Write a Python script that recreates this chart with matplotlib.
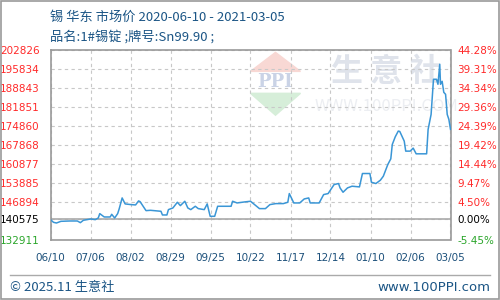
import numpy as np
import matplotlib.pyplot as plt
from matplotlib.patches import Polygon, Rectangle
from matplotlib.lines import Line2D

plt.rcParams['font.family'] = ['Noto Sans CJK SC', 'DejaVu Sans']

# day offsets from 2020-06-10 and price (yuan/ton)
days = [0, 2, 4, 7, 13, 18, 20, 22, 27, 30, 32, 33, 36, 40, 41, 43, 45, 46, 48, 50,
        54, 57, 59, 60, 64, 67, 74, 75, 78, 79, 82, 85, 87, 90, 92, 94, 97, 99, 103,
        105, 106, 107, 110, 112, 121, 122, 125, 130, 134, 137, 140, 144, 147, 151,
        156, 159, 160, 163, 167, 170, 173, 174, 180, 183, 186, 190, 193, 194, 196,
        199, 202, 207, 209, 214, 215, 218, 221, 223, 226, 228, 229, 231, 233, 234,
        237, 238, 241, 243, 245, 252, 253, 255, 256.6, 258.6, 259.6, 260.8, 261.3,
        262.4, 263.5, 264.7, 265.8, 266.9, 268]
prices = [140380, 139400, 139150, 139770, 139890, 139890, 139280, 140140, 140630,
          140380, 140990, 142590, 141360, 141360, 142340, 140990, 142590, 144300,
          148350, 146150, 145900, 145780, 147250, 147000, 143690, 143810, 143450,
          142100, 142100, 144060, 144670, 146760, 145530, 147130, 144670, 144060,
          145290, 144430, 144060, 146150, 143810, 141610, 141610, 145290, 145290,
          147130, 146510, 146880, 147130, 145780, 144430, 144430, 145900, 146270,
          146270, 146760, 149950, 146510, 146510, 147980, 148350, 146510, 146510,
          149580, 149950, 153260, 153630, 152030, 150440, 152030, 152650, 152400,
          157310, 157310, 154120, 153630, 154850, 156330, 160620, 162700, 167980,
          170800, 172880, 172760, 169200, 165530, 165530, 166630, 164540, 164540,
          173500, 179000, 191900, 191900, 190060, 197420, 190060, 191160, 187110,
          186380, 179000, 177180, 173500]

base = 140575
yticks = [132911, 140575, 146894, 153885, 160877, 167868, 174860, 181851,
          188843, 195834, 202826]
pct_labels = ['-5.45%', '0.00%', '4.50%', '9.47%', '14.44%', '19.42%', '24.39%',
              '29.36%', '34.34%', '39.31%', '44.28%']
xtick_labels = ['06/10', '07/06', '08/02', '08/29', '09/25', '10/22', '11/17',
                '12/14', '01/10', '02/06', '03/05']

fig = plt.figure(figsize=(5, 3), dpi=100)
fig.patch.set_facecolor('white')

ax = fig.add_axes([0.101, 0.2, 0.8, 0.635])
ax.set_xlim(0, 268)
ax.set_ylim(132911, 202826)

# watermark
wm = dict(transform=ax.transAxes, zorder=0)
ax.add_patch(Polygon([[0.50, 0.885], [0.625, 0.885], [0.5625, 0.985]], closed=True,
                     color='#f8d8d4', **wm))
ax.add_patch(Polygon([[0.50, 0.77], [0.625, 0.77], [0.5625, 0.655]], closed=True,
                     color='#d6eed9', **wm))
ax.text(0.5625, 0.828, 'PPI', ha='center', va='center', fontsize=13,
        color='#cad3e6', family='DejaVu Serif', fontweight='bold', **wm)
ax.text(0.84, 0.88, '生 意 社', ha='center', va='center', fontsize=23,
        color='#dfe3eb', fontweight='bold', **wm)
ax.text(0.84, 0.70, 'WWW.100PPI.COM', ha='center', va='center', fontsize=12,
        color='#eceef2', **wm)

ax.plot(days, prices, color='#3a96d6', lw=1.1, zorder=3)

ax.set_yticks(yticks)
ax.set_xticks(np.linspace(0, 268, 11))
ax.set_xticklabels(xtick_labels, color='#1b4f7a', fontsize=7.5, family='DejaVu Sans')
ax.tick_params(axis='both', length=0)
ax.tick_params(axis='x', pad=9)
ax.tick_params(axis='y', pad=8)
ax.set_yticklabels([str(v) for v in yticks], fontsize=7.5, family='DejaVu Sans')
for lab, v in zip(ax.get_yticklabels(), yticks):
    lab.set_color('#000000' if v == base else ('#2aa52a' if v < base else '#ff2a2a'))

ax.grid(True, ls=(0, (3, 3)), color='#c8c8c8', lw=0.8)
ax.axhline(base, color='#aaaaaa', lw=1.2, zorder=2)
for s in ax.spines.values():
    s.set_color('#999999')
    s.set_linewidth(1.2)

ax2 = ax.twinx()
ax2.set_ylim(ax.get_ylim())
ax2.set_yticks(yticks)
ax2.set_yticklabels(pct_labels, fontsize=7.5, family='DejaVu Sans')
ax2.tick_params(axis='y', length=0, pad=5)
for lab, v in zip(ax2.get_yticklabels(), yticks):
    lab.set_color('#000000' if v == base else ('#2aa52a' if v < base else '#ff2a2a'))
for s in ax2.spines.values():
    s.set_visible(False)

# header
fig.text(0.1, 0.943, '锡 华东 市场价 2020-06-10 - 2021-03-05', fontsize=9.5,
         color='#1b5585', va='center')
fig.text(0.1, 0.877, '品名:1#锡锭 ;牌号:Sn99.90 ;', fontsize=9.5,
         color='#1b5585', va='center')

# footer
fig.add_artist(Line2D([0.02, 0.98], [0.083, 0.083], color='#aaaaaa', lw=1))
fig.text(0.02, 0.043, '© 2025.11 生意社', fontsize=9.5, color='#1b5585', va='center')
fig.text(0.98, 0.043, 'www.100PPI.com', fontsize=9.5, color='#1b5585', va='center',
         ha='right', family='DejaVu Sans')
fig.add_artist(Rectangle((0.001, 0.002), 0.997, 0.995, fill=False, ec='#999999',
                         lw=1.2, transform=fig.transFigure))

fig.savefig('out.png', dpi=100)
